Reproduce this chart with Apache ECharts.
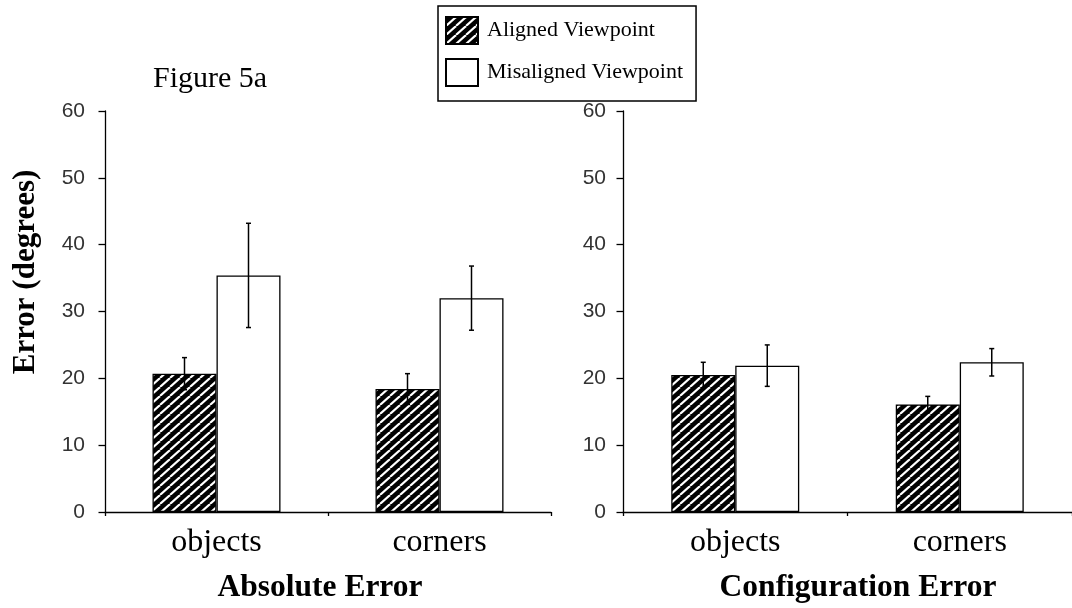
<!DOCTYPE html>
<html>
<head>
<meta charset="utf-8">
<script src="https://cdn.jsdelivr.net/npm/echarts@6/dist/echarts.min.js"></script>
<style>
html,body{margin:0;padding:0;background:#fff;}
#chart{width:1072px;height:608px;}
</style>
</head>
<body>
<div id="chart"></div>
<script>
// ---- data ----
const categories = ['objects', 'corners'];
const seriesNames = ['Aligned Viewpoint', 'Misaligned Viewpoint'];
const absAligned = [20.7, 18.4];
const absAlignedErr = [2.4, 2.3];
const absMisaligned = [35.4, 32.0];
const absMisalignedErr = [7.8, 4.8];
const cfgAligned = [20.5, 16.1];
const cfgAlignedErr = [1.9, 1.2];
const cfgMisaligned = [21.9, 22.4];
const cfgMisalignedErr = [3.1, 2.05];
const yTicks = {min: 0, max: 60, interval: 10};
const panelTitles = ['Absolute Error', 'Configuration Error'];
const yTitle = 'Error (degrees)';
const figTitle = 'Figure 5a';

// ---- hatch pattern ----
function makeHatch() {
  const c = document.createElement('canvas');
  const w = 10, h = 9;
  c.width = w; c.height = h;
  const ctx = c.getContext('2d');
  ctx.fillStyle = '#000';
  ctx.fillRect(0, 0, w, h);
  ctx.strokeStyle = '#fff';
  ctx.lineWidth = 2.1;
  for (const dx of [-w, 0, w]) {
    ctx.beginPath();
    ctx.moveTo(dx, h);
    ctx.lineTo(dx + w, 0);
    ctx.stroke();
  }
  return c;
}
const hatch = {image: makeHatch(), repeat: 'repeat'};

const BAR_W = 64;
const serif = 'Liberation Serif';
const sans = 'Liberation Sans';

function errData(vals, errs) {
  return vals.map((v, i) => [i, v, errs[i]]);
}
function errSeries(name, vals, errs, axis, offset) {
  return {
    type: 'custom',
    name: name,
    xAxisIndex: axis, yAxisIndex: axis,
    z: 5,
    silent: true,
    data: errData(vals, errs),
    encode: {x: 0, y: 1},
    renderItem: function (params, api) {
      const c = api.value(0), m = api.value(1), e = api.value(2);
      const x = api.coord([c, m])[0] + offset;
      const yt = api.coord([c, m + e])[1];
      const yb = api.coord([c, m - e])[1];
      const cap = 2.5;
      const st = {stroke: '#000', lineWidth: 1.5};
      return {
        type: 'group',
        children: [
          {type: 'line', shape: {x1: x, y1: yt, x2: x, y2: yb}, style: st},
          {type: 'line', shape: {x1: x - cap, y1: yt, x2: x + cap, y2: yt}, style: st},
          {type: 'line', shape: {x1: x - cap, y1: yb, x2: x + cap, y2: yb}, style: st}
        ]
      };
    }
  };
}
function barSeries(name, vals, axis, hatched) {
  return {
    type: 'bar',
    name: name,
    xAxisIndex: axis, yAxisIndex: axis,
    data: vals,
    barWidth: BAR_W,
    barGap: '0%',
    itemStyle: {
      color: hatched ? hatch : '#fff',
      borderColor: '#000',
      borderWidth: 1.3
    },
    emphasis: {disabled: true}
  };
}
function yAxis(idx, margin) {
  return {
    type: 'value', gridIndex: idx,
    min: yTicks.min, max: yTicks.max, interval: yTicks.interval,
    axisLine: {show: true, lineStyle: {color: '#000', width: 1.3}},
    axisTick: {show: true, length: 6.5, lineStyle: {color: '#000', width: 1.3}},
    splitLine: {show: false},
    axisLabel: {fontFamily: sans, fontSize: 21, color: '#333', margin: margin}
  };
}
function xAxis(idx) {
  return {
    type: 'category', gridIndex: idx, data: categories,
    axisLine: {show: true, lineStyle: {color: '#000', width: 1.3}},
    axisTick: {show: true, length: 4, alignWithLabel: false, lineStyle: {color: '#000', width: 1.3}},
    axisLabel: {fontFamily: serif, fontSize: 32, color: '#000', margin: 15}
  };
}

const chart = echarts.init(document.getElementById('chart'), null, {renderer: 'canvas'});
chart.setOption({
  animation: false,
  backgroundColor: '#fff',
  grid: [
    {left: 105, top: 111, width: 446, height: 401},
    {left: 623, top: 111, width: 452, height: 401}
  ],
  xAxis: [xAxis(0), xAxis(1)],
  yAxis: [yAxis(0, 20), yAxis(1, 17)],
  legend: {
    data: seriesNames.map(n => ({name: n, icon: 'rect'})),
    orient: 'vertical',
    left: 438, top: 6,
    padding: [10, 13, 14, 7],
    itemWidth: 32, itemHeight: 27, itemGap: 13,
    borderColor: '#000', borderWidth: 1.5,
    selectedMode: false,
    textStyle: {fontFamily: serif, fontSize: 22, color: '#000', padding: [0, 0, 0, 4]}
  },
  graphic: [
    {type: 'text', x: 153, y: 79, style: {text: figTitle, font: '30px "Liberation Serif"', fill: '#000', textVerticalAlign: 'middle'}},
    {type: 'text', x: 320, y: 588, style: {text: panelTitles[0], font: 'bold 31.5px "Liberation Serif"', fill: '#000', textAlign: 'center', textVerticalAlign: 'middle'}},
    {type: 'text', x: 858, y: 588, style: {text: panelTitles[1], font: 'bold 31.5px "Liberation Serif"', fill: '#000', textAlign: 'center', textVerticalAlign: 'middle'}},
    {type: 'text', x: 26, y: 272, rotation: Math.PI / 2, style: {text: yTitle, font: 'bold 31px "Liberation Serif"', fill: '#000', textAlign: 'center', textVerticalAlign: 'middle'}}
  ],
  series: [
    barSeries(seriesNames[0], absAligned, 0, true),
    barSeries(seriesNames[1], absMisaligned, 0, false),
    barSeries(seriesNames[0], cfgAligned, 1, true),
    barSeries(seriesNames[1], cfgMisaligned, 1, false),
    errSeries('errA0', absAligned, absAlignedErr, 0, -BAR_W / 2),
    errSeries('errM0', absMisaligned, absMisalignedErr, 0, BAR_W / 2),
    errSeries('errA1', cfgAligned, cfgAlignedErr, 1, -BAR_W / 2),
    errSeries('errM1', cfgMisaligned, cfgMisalignedErr, 1, BAR_W / 2)
  ]
});
</script>
</body>
</html>
